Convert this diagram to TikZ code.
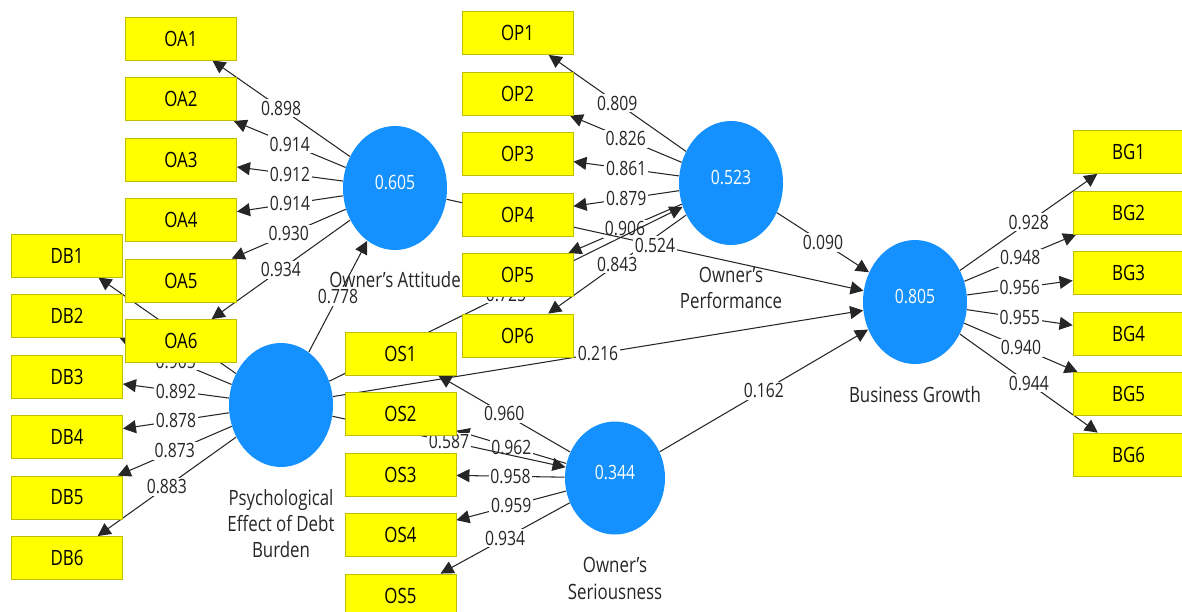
\documentclass[tikz,border=0pt]{standalone}
\usepackage{fontspec}
\setmainfont[FakeStretch=0.8]{Open Sans}
\usetikzlibrary{arrows.meta}
\usetikzlibrary{shapes.geometric}
\usetikzlibrary{backgrounds}

\definecolor{lvblue}{RGB}{20,144,255}
\definecolor{itemyellow}{RGB}{255,255,0}
\definecolor{itemedge}{RGB}{190,190,0}

\tikzset{
  item/.style={rectangle, draw=itemedge, fill=itemyellow, line width=0.5pt,
    minimum width=22.2mm, minimum height=8.6mm, inner sep=0pt,
    font=\fontsize{12}{14}\selectfont},
  latent/.style={ellipse, fill=lvblue, text=white, minimum width=20.8mm,
    minimum height=24.8mm, inner sep=0pt, text depth=2.2mm,
    font=\fontsize{11.2}{13}\selectfont},
  caption/.style={align=center, inner sep=0pt, text=black!85,
    font=\fontsize{12}{15}\selectfont},
  coef/.style={fill=white, inner sep=1pt, text=black!85,
    font=\fontsize{11.2}{13}\selectfont},
}

\begin{document}
\begin{tikzpicture}[x=0.2mm, y=-0.2mm, node distance=12.1mm,
    >={Triangle[length=2.6mm,width=2.6mm]}]
    \path[use as bounding box, clip] (0,0) rectangle (1182,611);

    % latent variables
    \node[latent] (oa) at (395,188) {0.605};
    \node[latent] (op) at (731,183) {0.523};
    \node[latent] (bg) at (915,302) {0.805};
    \node[latent] (db) at (281,405) {};
    \node[latent, minimum width=20mm, minimum height=22.6mm] (os) at (615,478) {0.344};

    \node[caption] (oacap) [below of=oa, node distance=18.4mm] {Owner's Attitude};
    \node[caption] (opcap) [below of=op, node distance=21mm] {Owner's\\Performance};
    \node[caption] (bgcap) [below of=bg, node distance=18.5mm] {Business Growth};
    \node[caption] (dbcap) [below of=db, node distance=23.7mm] {Psychological\\Effect of Debt\\Burden};
    \node[caption] (oscap) [below of=os, node distance=20.1mm] {Owner's\\Seriousness};

    % indicators
    \node[item] (oa1) at (181,38.5) {OA1};
    \node[item] (oa2) [below of=oa1] {OA2};
    \node[item] (oa3) [below of=oa2] {OA3};
    \node[item] (oa4) [below of=oa3] {OA4};
    \node[item] (oa5) [below of=oa4] {OA5};
    \node[item] (oa6) [below of=oa5] {OA6};

    \node[item] (db1) at (67,255.5) {DB1};
    \node[item] (db2) [below of=db1] {DB2};
    \node[item] (db3) [below of=db2] {DB3};
    \node[item] (db4) [below of=db3] {DB4};
    \node[item] (db5) [below of=db4] {DB5};
    \node[item] (db6) [below of=db5] {DB6};

    \node[item] (op1) at (517.5,33) {OP1};
    \node[item] (op2) [below of=op1] {OP2};
    \node[item] (op3) [below of=op2] {OP3};
    \node[item] (op4) [below of=op3] {OP4};
    \node[item] (op5) [below of=op4] {OP5};
    \node[item] (op6) [below of=op5] {OP6};

    \node[item] (os1) at (400.5,353.5) {OS1};
    \node[item] (os2) [below of=os1] {OS2};
    \node[item] (os3) [below of=os2] {OS3};
    \node[item] (os4) [below of=os3] {OS4};
    \node[item] (os5) [below of=os4] {OS5};

    \node[item] (bg1) at (1128.5,152) {BG1};
    \node[item] (bg2) [below of=bg1] {BG2};
    \node[item] (bg3) [below of=bg2] {BG3};
    \node[item] (bg4) [below of=bg3] {BG4};
    \node[item] (bg5) [below of=bg4] {BG5};
    \node[item] (bg6) [below of=bg5] {BG6};

    \begin{pgfonlayer}{background}
    % outer loadings
    \path[->, every edge/.style={draw=black!85, line width=0.6pt}]
          (oa) edge node[coef] {0.898} (oa1)
          (oa) edge node[coef] {0.914} (oa2)
          (oa) edge node[coef] {0.912} (oa3)
          (oa) edge node[coef] {0.914} (oa4)
          (oa) edge node[coef] {0.930} (oa5)
          (oa) edge node[coef] {0.934} (oa6)
          (db) edge (db1)
          (db) edge node[coef] {0.905} (db2)
          (db) edge node[coef] {0.892} (db3)
          (db) edge node[coef] {0.878} (db4)
          (db) edge node[coef] {0.873} (db5)
          (db) edge node[coef] {0.883} (db6)
          (op) edge node[coef] {0.809} (op1)
          (op) edge node[coef] {0.826} (op2)
          (op) edge node[coef] {0.861} (op3)
          (op) edge node[coef] {0.879} (op4)
          (op) edge node[coef] {0.906} (op5)
          (op) edge node[coef] {0.843} (op6)
          (os) edge node[coef] {0.960} (os1)
          (os) edge node[coef] {0.962} (os2)
          (os) edge node[coef] {0.958} (os3)
          (os) edge node[coef] {0.959} (os4)
          (os) edge node[coef] {0.934} (os5)
          (bg) edge node[coef] {0.928} (bg1)
          (bg) edge node[coef] {0.948} (bg2)
          (bg) edge node[coef] {0.956} (bg3)
          (bg) edge node[coef] {0.955} (bg4)
          (bg) edge node[coef] {0.940} (bg5)
          (bg) edge node[coef] {0.944} (bg6);
    % path coefficients
    \path[->, every edge/.style={draw=black!85, line width=0.6pt}]
          (db) edge node[coef] {0.778} (oa)
          (db) edge node[coef] {0.725} (op)
          (db) edge node[coef] {0.587} (os)
          (db) edge node[coef] {0.216} (bg)
          (oa) edge node[coef] {0.524} (bg)
          (op) edge node[coef] {0.090} (bg)
          (os) edge node[coef] {0.162} (bg);
    \end{pgfonlayer}
\end{tikzpicture}
\end{document}
